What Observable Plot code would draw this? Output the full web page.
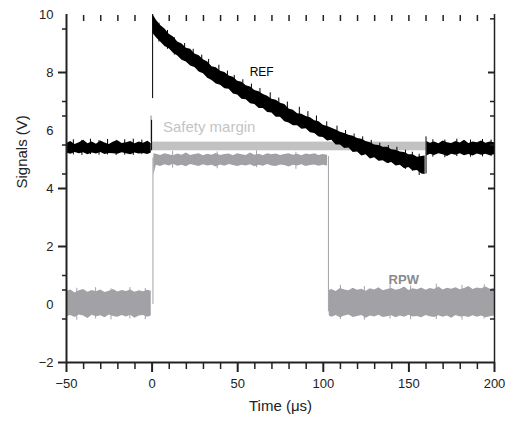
<!DOCTYPE html>
<html>
<head>
<meta charset="utf-8">
<script src="https://cdn.jsdelivr.net/npm/d3@7"></script>
<script src="https://cdn.jsdelivr.net/npm/@observablehq/plot@0.6"></script>
<style>
  html, body { margin: 0; padding: 0; background: #fff; }
</style>
</head>
<body>
<div id="chart"></div>
<script>
// ---------- tick values ----------
const xMajorTicks = [-50, 0, 50, 100, 150, 200];
const xMinorTicks = [-40, -30, -20, -10, 10, 20, 30, 40, 60, 70, 80, 90, 110, 120, 130, 140, 160, 170, 180, 190];
const xTopTicks = [-40, -30, -20, -10, 10, 20, 30, 40, 50, 60, 70, 80, 90, 100, 110, 120, 130, 140, 150, 160, 170, 180, 190];
const yLabelTicks = [-2, 0, 2, 4, 6, 8, 10];
const yLeftLongTicks = [8, 4, 2, -2];
const yLeftShortTicks = [9.5, 7, 6.5, 5.5, 4.5, 1, 0.5, -0.5];
const yRightLongTicks = [8, 4, 2];
const yRightShortTicks = [9.85, 7, 6.5, 5.5, 4.5, 1, 0.5, -0.5];

// ---------- REF (black) envelope: time, low, high ----------
const refPreT  = [-50,-47.5,-45,-42.5,-40,-37.5,-35,-32.5,-30,-27.5,-25,-22.5,-20,-17.5,-15,-12.5,-10,-7.5,-5,-2.5,-0.5];
const refPreLo = [5.22,5.18,5.24,5.2,5.23,5.16,5.22,5.19,5.24,5.17,5.21,5.2,5.18,5.23,5.2,5.16,5.22,5.19,5.21,5.17,5.22];
const refPreHi = [5.55,5.62,5.52,5.58,5.66,5.54,5.6,5.53,5.64,5.57,5.52,5.6,5.65,5.55,5.58,5.62,5.54,5.6,5.56,5.63,5.55];

const refDecayT  = [0.5,2.5,5,7.5,10,12.5,15,17.5,20,22.5,25,27.5,30,32.5,35,37.5,40,42.5,45,47.5,50,52.5,55,57.5,60,62.5,65,67.5,70,72.5,75,77.5,80,82.5,85,87.5,90,92.5,95,97.5,100,102.5,105,107.5,110,112.5,115,117.5,120,122.5,125,127.5,130,132.5,135,137.5,140,142.5,145,147.5,150,152.5,155,157.5,159.5];
const refDecayLo = [9.35,9.2,9.05,8.9,8.82,8.66,8.57,8.42,8.36,8.22,8.17,8.02,7.96,7.8,7.72,7.6,7.56,7.44,7.42,7.26,7.22,7.08,7.06,6.92,6.9,6.76,6.76,6.62,6.6,6.46,6.46,6.3,6.26,6.16,6.16,6.04,6.06,5.92,5.9,5.78,5.76,5.64,5.66,5.5,5.5,5.38,5.4,5.24,5.26,5.12,5.16,5.02,5.06,4.94,4.96,4.86,4.9,4.78,4.8,4.68,4.72,4.6,4.62,4.5,4.48];
const refDecayHi = [10.0,9.8,9.62,9.5,9.32,9.22,9.05,8.98,8.84,8.8,8.64,8.58,8.44,8.36,8.2,8.16,8.04,8.0,7.88,7.84,7.7,7.66,7.54,7.5,7.38,7.34,7.24,7.18,7.08,7.04,6.94,6.9,6.74,6.7,6.58,6.56,6.48,6.44,6.34,6.3,6.18,6.14,6.08,6.02,5.94,5.9,5.84,5.8,5.72,5.7,5.62,5.58,5.5,5.48,5.42,5.42,5.34,5.32,5.26,5.24,5.16,5.16,5.08,5.1,5.12];

const refPostT  = [160.5,162.5,165,167.5,170,172.5,175,177.5,180,182.5,185,187.5,190,192.5,195,197.5,200];
const refPostLo = [5.12,5.18,5.14,5.2,5.16,5.1,5.18,5.15,5.2,5.13,5.17,5.12,5.19,5.15,5.18,5.13,5.16];
const refPostHi = [5.62,5.56,5.6,5.54,5.64,5.58,5.55,5.62,5.57,5.66,5.55,5.6,5.58,5.64,5.56,5.6,5.58];

// REF edges and noise spikes: time, low, high
const refSpikeT  = [-46,-41,-36,-31,-26,-21,-16,-11,-6,-0.3, 0.3, 4,9,13,19,24,29,33,39,44,48,53,58,63,69,74,79,86,91,96,102,108,113,118,123,128,133,138,143,148,152,156, 160, 164,171,178,186,193,198];
const refSpikeLo = [5.16,5.14,5.17,5.15,5.16,5.14,5.15,5.14,5.17,5.3, 7.1, 9.05,8.8,8.6,8.4,8.2,8.0,7.85,7.65,7.45,7.3,7.12,6.98,6.82,6.66,6.5,6.36,6.18,6.08,5.86,5.72,5.56,5.42,5.3,5.16,5.06,4.96,4.86,4.8,4.66,4.6,4.45, 4.5, 5.08,5.06,5.1,5.08,5.09,5.1];
const refSpikeHi = [5.68,5.66,5.7,5.65,5.69,5.66,5.68,5.7,5.67,6.35, 10.0, 9.7,9.45,9.2,9.0,8.8,8.6,8.45,8.25,8.05,7.9,7.75,7.6,7.45,7.3,7.12,6.98,6.8,6.65,6.5,6.3,6.15,6.0,5.88,5.78,5.66,5.56,5.48,5.42,5.32,5.25,5.18, 5.78, 5.68,5.67,5.7,5.67,5.69,5.67];

// ---------- RPW (grey) envelope: time, low, high ----------
const rpwPreT  = [-50,-47.5,-45,-42.5,-40,-37.5,-35,-32.5,-30,-27.5,-25,-22.5,-20,-17.5,-15,-12.5,-10,-7.5,-5,-2.5,-0.5];
const rpwPreLo = [-0.42,-0.38,-0.45,-0.36,-0.4,-0.48,-0.37,-0.42,-0.39,-0.46,-0.36,-0.41,-0.44,-0.38,-0.43,-0.37,-0.47,-0.4,-0.38,-0.44,-0.4];
const rpwPreHi = [0.45,0.5,0.4,0.47,0.52,0.42,0.48,0.44,0.5,0.41,0.46,0.52,0.43,0.48,0.45,0.5,0.42,0.47,0.44,0.49,0.46];

const rpwPulseT  = [1,2.5,5,7.5,10,12.5,15,17.5,20,22.5,25,27.5,30,32.5,35,37.5,40,42.5,45,47.5,50,52.5,55,57.5,60,62.5,65,67.5,70,72.5,75,77.5,80,82.5,85,87.5,90,92.5,95,97.5,100,102.5];
const rpwPulseLo = [4.45,4.8,4.76,4.82,4.78,4.84,4.77,4.8,4.75,4.83,4.79,4.76,4.82,4.78,4.8,4.74,4.81,4.77,4.83,4.79,4.76,4.8,4.78,4.82,4.75,4.8,4.77,4.83,4.78,4.76,4.81,4.79,4.74,4.8,4.78,4.82,4.76,4.79,4.81,4.77,4.8,4.78];
const rpwPulseHi = [5.2,5.18,5.14,5.2,5.16,5.13,5.19,5.15,5.22,5.14,5.17,5.2,5.13,5.18,5.15,5.21,5.14,5.17,5.19,5.13,5.2,5.16,5.14,5.22,5.15,5.18,5.13,5.2,5.16,5.19,5.14,5.17,5.2,5.15,5.18,5.13,5.19,5.16,5.2,5.14,5.17,5.15];

const rpwPostT  = [103.5,105,107.5,110,112.5,115,117.5,120,122.5,125,127.5,130,132.5,135,137.5,140,142.5,145,147.5,150,152.5,155,157.5,160,162.5,165,167.5,170,172.5,175,177.5,180,182.5,185,187.5,190,192.5,195,197.5,200];
const rpwPostLo = [-0.4,-0.44,-0.38,-0.46,-0.4,-0.36,-0.45,-0.41,-0.38,-0.47,-0.4,-0.43,-0.37,-0.45,-0.42,-0.39,-0.46,-0.4,-0.44,-0.37,-0.43,-0.41,-0.46,-0.38,-0.42,-0.45,-0.39,-0.44,-0.4,-0.47,-0.38,-0.43,-0.41,-0.45,-0.39,-0.44,-0.4,-0.46,-0.42,-0.4];
const rpwPostHi = [0.48,0.52,0.45,0.55,0.5,0.47,0.56,0.49,0.53,0.46,0.54,0.5,0.58,0.47,0.52,0.55,0.49,0.53,0.6,0.48,0.54,0.51,0.57,0.49,0.55,0.52,0.6,0.5,0.56,0.53,0.58,0.51,0.55,0.62,0.52,0.57,0.54,0.6,0.53,0.56];

// RPW edges and spikes: time, low, high
const rpwSpikeT  = [-44,-33,-24,-13,-4, 0.5, 103, 110,124,139,151,166,181,194, 12,38,61,84];
const rpwSpikeLo = [-0.54,-0.5,-0.53,-0.5,-0.52, 0.0, -0.25, -0.52,-0.54,-0.5,-0.53,-0.52,-0.54,-0.5, 4.7,4.68,4.72,4.66];
const rpwSpikeHi = [0.56,0.58,0.54,0.58,0.55, 5.05, 5.1, 0.66,0.62,0.68,0.64,0.7,0.66,0.68, 5.28,5.26,5.3,5.25];

// ---------- safety margin band ----------
const safetyStart = 0, safetyEnd = 160, safetyLow = 5.3, safetyHigh = 5.6;
const safetyMarkT = [-0.6], safetyMarkLo = [5.6], safetyMarkHi = [6.5];

// ---------- annotations ----------
const labelRef = {t: 64, v: 8.0, text: "REF"};
const labelRpw = {t: 147, v: 0.86, text: "RPW"};
const labelSafety = {t: 6.3, v: 6.1, text: "Safety margin"};
const xTitle = "Time (μs)";
const yTitle = "Signals (V)";

const rows = (T, LO, HI) => T.map((t, i) => ({t, lo: LO[i], hi: HI[i]}));

const refPre = rows(refPreT, refPreLo, refPreHi);
const refDecay = rows(refDecayT, refDecayLo, refDecayHi);
const refPost = rows(refPostT, refPostLo, refPostHi);
const refSpikes = rows(refSpikeT, refSpikeLo, refSpikeHi);
const rpwPre = rows(rpwPreT, rpwPreLo, rpwPreHi);
const rpwPulse = rows(rpwPulseT, rpwPulseLo, rpwPulseHi);
const rpwPost = rows(rpwPostT, rpwPostLo, rpwPostHi);
const rpwSpikes = rows(rpwSpikeT, rpwSpikeLo, rpwSpikeHi);
const safetyMark = rows(safetyMarkT, safetyMarkLo, safetyMarkHi);

const BLACK = "#000";
const GREY = "#a2a2a6";
const SAFETY = "#c2c2c2";
const INK = "#222";

const band = (data, fill) => Plot.areaY(data, {x: "t", y1: "lo", y2: "hi", fill});
const spikes = (data, stroke, w) => Plot.ruleX(data, {x: "t", y1: "lo", y2: "hi", stroke, strokeWidth: w});

const chart = Plot.plot({
  width: 509,
  height: 425,
  marginLeft: 66,
  marginRight: 15,
  marginTop: 14,
  marginBottom: 63,
  style: {fontFamily: "'Liberation Sans', Arial, sans-serif", background: "#fff", color: INK},
  x: {domain: [-50, 200], label: null, axis: null},
  y: {domain: [-2, 10], label: null, axis: null},
  marks: [
    // safety margin
    Plot.rect([{x1: safetyStart, x2: safetyEnd, y1: safetyLow, y2: safetyHigh}], {x1: "x1", x2: "x2", y1: "y1", y2: "y2", fill: SAFETY}),
    spikes(safetyMark, SAFETY, 2),

    // RPW
    band(rpwPre, GREY),
    band(rpwPulse, GREY),
    band(rpwPost, GREY),
    spikes(rpwSpikes, GREY, 1),

    // REF
    band(refPre, BLACK),
    band(refDecay, BLACK),
    band(refPost, BLACK),
    spikes(refSpikes, BLACK, 1),

    // annotations
    Plot.text([labelRef], {x: "t", y: "v", text: "text", fontSize: 12, fill: BLACK}),
    Plot.text([labelRpw], {x: "t", y: "v", text: "text", fontSize: 13, fontWeight: "bold", fill: "#8a8a8e"}),
    Plot.text([labelSafety], {x: "t", y: "v", text: "text", fontSize: 15, fill: "#c4c4c4", textAnchor: "start"}),

    // frame lines
    Plot.ruleX([-50], {strokeWidth: 2, stroke: INK}),
    Plot.ruleX([200], {strokeWidth: 1.5, stroke: INK}),
    Plot.ruleY([-2], {strokeWidth: 2, stroke: INK}),

    // bottom axis
    Plot.axisX({ticks: xMinorTicks, anchor: "bottom", tickSize: 7, strokeWidth: 1.5, fill: "none", label: null}),
    Plot.axisX({ticks: xMajorTicks, anchor: "bottom", tickSize: 10, strokeWidth: 2, tickPadding: 6, fontSize: 13, fill: INK, label: null, tickFormat: d => d < 0 ? "\u2212" + Math.abs(d) : String(d)}),
    // top ticks (inward)
    Plot.axisX({ticks: xTopTicks, anchor: "top", tickSize: 6, dy: 6, strokeWidth: 1.5, fill: "none", label: null}),

    // left axis
    Plot.axisY({ticks: yLeftLongTicks, anchor: "left", tickSize: 8, strokeWidth: 2, fill: "none", label: null}),
    Plot.axisY({ticks: yLeftShortTicks, anchor: "left", tickSize: 4, strokeWidth: 1.5, fill: "none", label: null}),
    Plot.axisY({ticks: yLabelTicks, anchor: "left", tickSize: 0, tickPadding: 13, fontSize: 13, fill: INK, label: null, tickFormat: d => d < 0 ? "\u2212" + Math.abs(d) : String(d)}),

    // right axis (inward ticks)
    Plot.axisY({ticks: yRightLongTicks, anchor: "right", tickSize: 7, dx: -7, strokeWidth: 2, fill: "none", label: null}),
    Plot.axisY({ticks: yRightShortTicks, anchor: "right", tickSize: 5, dx: -5, strokeWidth: 1.5, fill: "none", label: null}),

    // axis titles
    Plot.text([xTitle], {frameAnchor: "bottom", dy: 48, fontSize: 15, fill: INK}),
    Plot.text([yTitle], {frameAnchor: "left", dx: -44, rotate: -90, fontSize: 15, fill: INK})
  ]
});
document.getElementById("chart").appendChild(chart);
</script>
</body>
</html>
